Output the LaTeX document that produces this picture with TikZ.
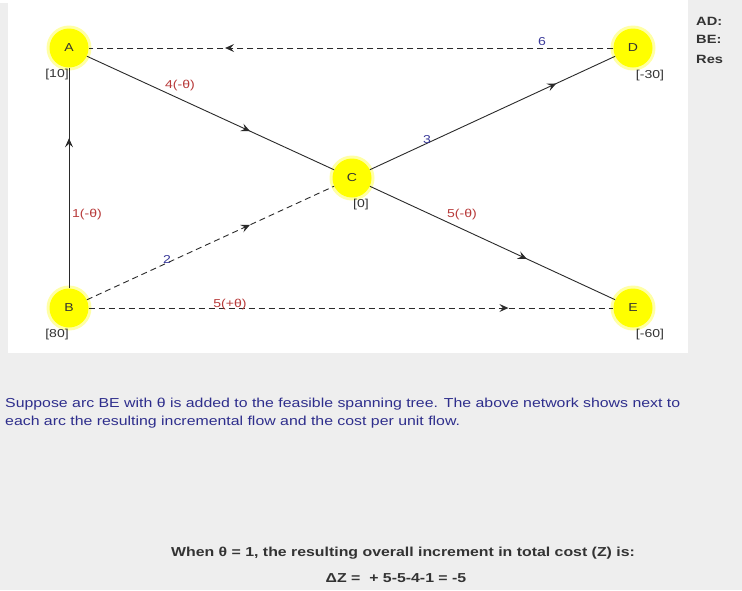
\documentclass[tikz,border=0pt]{standalone}
\usepackage{fontspec}
\setmainfont[FakeStretch=1.22]{Liberation Sans}
\usepackage{xcolor}
\usetikzlibrary{positioning, arrows.meta, decorations.markings}
\definecolor{cPanel}   {HTML}{EEEEEE}
\definecolor{cNode}    {HTML}{FFFF00}
\definecolor{cArc}     {HTML}{2A2A2A}
\definecolor{cCostRed} {HTML}{B83A3A}
\definecolor{cCostBlue}{HTML}{3A3A9A}
\definecolor{cNote}    {HTML}{2E2E8C}
\definecolor{cSupply}  {HTML}{333333}

\tikzset{
  vertex/.style={circle, fill=cNode, minimum size=39pt, inner sep=0pt,
                 font=\fontsize{11.5}{12}\selectfont, text=cSupply},
  halo/.style={circle, fill=cNode!35, minimum size=45pt, inner sep=0pt},
  supply/.style={font=\fontsize{11.5}{12}\selectfont, text=cSupply, inner sep=0pt},
  costred/.style={font=\fontsize{11.5}{12}\selectfont, text=cCostRed, inner sep=0pt},
  costblue/.style={font=\fontsize{11.5}{12}\selectfont, text=cCostBlue, inner sep=0pt},
  sidetext/.style={font=\fontsize{12}{13}\selectfont\bfseries, text=cSupply,
                   anchor=west, inner sep=0pt},
  treearc/.style={draw=cArc, line width=0.9pt},
  addarc/.style={draw=cArc, line width=0.9pt, dash pattern=on 6pt off 4pt},
  flowtip/.style={postaction={decorate}, decoration={markings,
      mark=at position #1 with {\arrow{Stealth[length=9pt, width=8pt, inset=3.5pt]}}}},
}

\begin{document}
\begin{tikzpicture}[x=1pt, y=-1pt]
  \useasboundingbox (0,0) rectangle (742,590);
  % Background and panel
  \fill[cPanel] (0,0) rectangle (742,590);
  \fill[white] (0,0) rectangle (688,3);
  \fill[white] (8,3) rectangle (688,353);

  % Halo under nodes
  \foreach \nm/\x/\y in {A/69/48, D/633/48, C/352/178, B/69/308, E/633/308}
    \node[halo] at (\x,\y) {};

  % Nodes
  \node[vertex] (A) at (69,48)   {A};
  \node[vertex] (D) at (633,48)  {D};
  \node[vertex] (C) at (352,178) {C};
  \node[vertex] (B) at (69,308)  {B};
  \node[vertex] (E) at (633,308) {E};

  % Arcs of the spanning tree and the added ones
  \draw[addarc,  flowtip=0.74] (D) -- (A);
  \draw[treearc, flowtip=0.66] (A) -- (C);
  \draw[treearc, flowtip=0.68] (B) -- (A);
  \draw[treearc, flowtip=0.76] (C) -- (D);
  \draw[addarc,  flowtip=0.66] (B) -- (C);
  \draw[treearc, flowtip=0.64] (C) -- (E);
  \draw[addarc,  flowtip=0.80] (B) -- (E);

  % Supplies
  \node[supply] (sA) at (57,75)  {[10]};
  \node[supply] (sD) at (650,76) {[-30]};
  \node[supply] (sC) at (361,205) {[0]};
  \node[supply] (sB) at (57,335) {[80]};
  \node[supply] (sE) at (650,335) {[-60]};

  % Costs and increments
  \node[costred]  (lAC) at (180,86)  {4(-θ)};
  \node[costblue] (lDA) at (542,42)  {6};
  \node[costblue] (lCD) at (427,140) {3};
  \node[costred]  (lBA) at (87,215)  {1(-θ)};
  \node[costblue] (lBC) at (167,259) {2};
  \node[costred]  (lBE) at (230,305) {5(+θ)};
  \node[costred]  (lCE) at (462,215) {5(-θ)};

  % Side column
  \node[sidetext] (tAD)  at (696,21) {AD:};
  \node[sidetext] (tBE)  at (696,39) {BE:};
  \node[sidetext] (tRes) at (696,59) {Res};

  % Notes below
  \node[font=\fontsize{13}{18}\selectfont, text=cNote, anchor=north west,
        align=left, inner sep=0pt] (note) at (5,398)
    {Suppose arc BE with θ is added to the feasible spanning tree. The above network shows next to\\
     each arc the resulting incremental flow and the cost per unit flow.};
  \node[font=\fontsize{13}{14}\selectfont\bfseries, text=cSupply] (when) at (403,553)
    {When θ = 1, the resulting overall increment in total cost (Z) is:};
  \node[font=\fontsize{13}{14}\selectfont\bfseries, text=cSupply] (dz) at (396,578)
    {ΔZ =\ \ + 5-5-4-1 = -5};
\end{tikzpicture}
\end{document}
